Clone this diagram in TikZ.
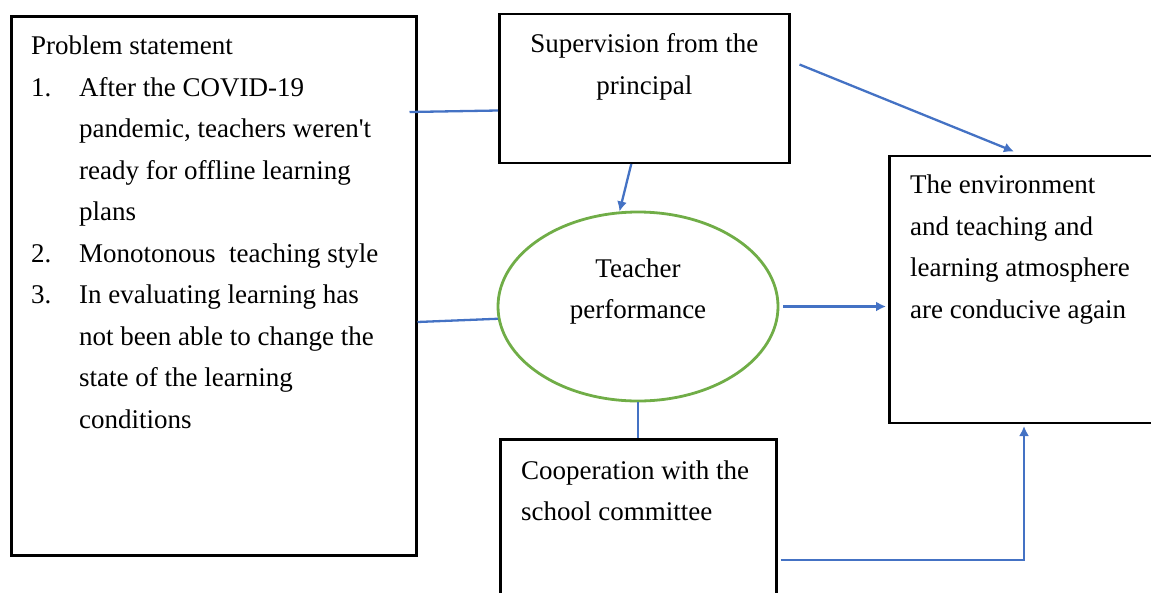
\documentclass[tikz,border=0pt]{standalone}
\usepackage{fontspec}
\setmainfont{Liberation Serif}
\usetikzlibrary{arrows.meta,shapes.geometric}
\definecolor{linkblue}{HTML}{4472C4}
\definecolor{ellgreen}{HTML}{70AD47}

\begin{document}
\begin{tikzpicture}[x=1pt,y=-1pt,
    box/.style={draw,rectangle,line width=2.5pt,anchor=north west,inner sep=0pt},
    txt/.style={inner sep=0pt,font=\fontsize{27}{41.5}\selectfont},
    link/.style={draw=linkblue,line width=2.3pt},
    arr/.style={link,-{Latex[length=10pt,width=10pt]}}]
    \useasboundingbox (0,0) rectangle (1151,592);
    \clip (0,0) rectangle (1151,592);

    % boxes
    \node[box,minimum width=405pt,minimum height=539pt] (prob) at (10,15) {};
    \node[box,minimum width=290pt,minimum height=149pt] (sup) at (498,12.5) {};
    \node[box,minimum width=290pt,minimum height=267pt] (env) at (888,154.5) {};
    \node[box,minimum width=276pt,minimum height=200pt] (coop) at (499,438) {};
    \node[draw=ellgreen,ellipse,line width=2.8pt,inner sep=0pt,
          minimum width=280pt,minimum height=189pt] (perf) at (638,306.5) {};

    % texts
    \node[txt,anchor=base west] (probtxt) at ([shift={(21,39.5)}]prob.north west) {%
      \begin{tabular}[t]{@{}p{48pt}@{}l@{}}
        \multicolumn{2}{@{}l@{}}{Problem statement}\\
        1. & After the COVID-19\\
           & pandemic, teachers weren\textquotesingle t\\
           & ready for offline learning\\
           & plans\\
        2. & Monotonous\ \ teaching style\\
        3. & In evaluating learning has\\
           & not been able to change the\\
           & state of the learning\\
           & conditions
      \end{tabular}};
    \node[txt,anchor=base] (suptxt) at ([yshift=-40pt]sup.north) {%
      \begin{tabular}[t]{@{}c@{}}Supervision from the\\ principal\end{tabular}};
    \node[txt,anchor=base] (perftxt) at ([yshift=29.5pt]perf.center) {%
      \begin{tabular}[t]{@{}c@{}}Teacher\\ performance\end{tabular}};
    \node[txt,anchor=base west] (envtxt) at ([shift={(22,39)}]env.north west) {%
      \begin{tabular}[t]{@{}l@{}}The environment\\ and teaching and\\
        learning atmosphere\\ are conducive again\end{tabular}};
    \node[txt,anchor=base west] (cooptxt) at ([shift={(22,41)}]coop.north west) {%
      \begin{tabular}[t]{@{}l@{}}Cooperation with the\\ school committee\end{tabular}};

    % connectors
    \draw[link] ([shift={(-8,97)}]prob.north east) -- ([shift={(0,98)}]sup.north west);
    \draw[link] ([shift={(0,307)}]prob.north east) -- (perf.185);
    \draw[arr] ([xshift=-13pt]sup.south) -- (perf.101);
    \draw[arr] ([shift={(9,52)}]sup.north east) -- ([shift={(126,-3)}]env.north west);
    \draw[arr] ([xshift=4pt]perf.east) -- ([xshift=-2pt]env.west |- perf.east);
    \draw[link] (perf.south) -- (perf.south |- coop.north);
    \draw[arr] ([shift={(3,122)}]coop.north east) -| ([shift={(136,2)}]env.south west);
\end{tikzpicture}
\end{document}
